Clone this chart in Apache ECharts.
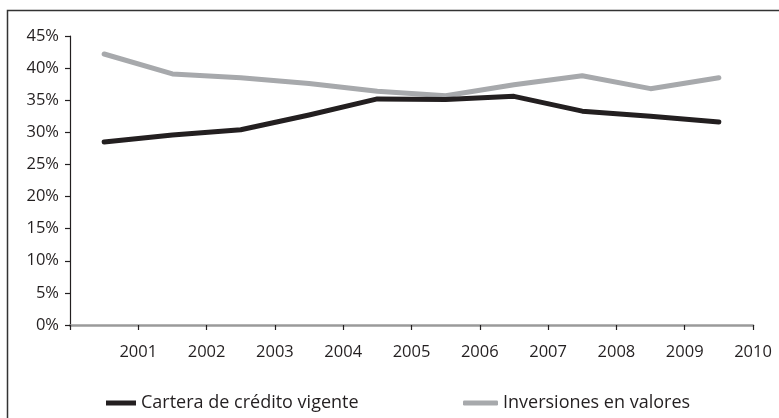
<!DOCTYPE html>
<html>
<head>
<meta charset="utf-8">
<script src="https://cdn.jsdelivr.net/npm/echarts@6/dist/echarts.min.js"></script>
<style>
html,body{margin:0;padding:0;background:#fff;}
#chart{width:779px;height:418px;}
</style>
</head>
<body>
<div id="chart"></div>
<script>
const categories = ['2001','2002','2003','2004','2005','2006','2007','2008','2009','2010'];
const tickLabels = ['2001','2002','2003','2004','2005','2006','2007','2008','2009','2010'];
const cartera = [28.5, 29.6, 30.4, 32.7, 35.2, 35.1, 35.6, 33.3, 32.5, 31.6];
const inversiones = [42.2, 39.1, 38.5, 37.6, 36.4, 35.7, 37.4, 38.8, 36.8, 38.5];
const seriesNames = ['Cartera de crédito vigente', 'Inversiones en valores'];
const yTicks = [0, 5, 10, 15, 20, 25, 30, 35, 40, 45];

const FONT = '"Open Sans", "DejaVu Sans", sans-serif';
const TXT = '#231f20';

const chart = echarts.init(document.getElementById('chart'), null, {renderer: 'canvas'});
chart.setOption({
  animation: false,
  backgroundColor: '#fff',
  textStyle: {fontFamily: FONT},
  grid: {left: 70, right: 26, top: 36, bottom: 93, containLabel: false},
  graphic: [{
    type: 'rect',
    shape: {x: 7.5, y: 10.5, width: 800, height: 500},
    style: {fill: 'none', stroke: '#333', lineWidth: 1.5},
    silent: true,
    z: -10
  }],
  legend: [{
    data: [seriesNames[0]],
    left: 101, top: 389,
    icon: 'rect', itemWidth: 30, itemHeight: 5, itemGap: 10,
    textStyle: {fontSize: 18, color: TXT, fontFamily: FONT}
  }, {
    data: [seriesNames[1]],
    left: 458, top: 389,
    icon: 'roundRect', itemWidth: 35, itemHeight: 5, itemGap: 10,
    textStyle: {fontSize: 18, color: TXT, fontFamily: FONT}
  }],
  xAxis: [{
    type: 'category',
    data: categories,
    boundaryGap: true,
    axisLine: {show: true, lineStyle: {color: '#9a9a9a', width: 2.5}},
    axisTick: {show: true, length: 5, lineStyle: {color: TXT, width: 1.2}},
    axisLabel: {show: false},
    splitLine: {show: false}
  }, {
    type: 'value',
    position: 'bottom',
    min: 0, max: 10, interval: 1,
    axisLine: {show: false},
    axisTick: {show: false},
    splitLine: {show: false},
    axisLabel: {
      show: true, margin: 19, fontSize: 16.5, color: TXT, fontFamily: FONT,
      showMinLabel: true, showMaxLabel: true,
      formatter: function (v) { return v >= 1 ? tickLabels[v - 1] : ''; }
    }
  }],
  yAxis: {
    type: 'value',
    min: 0, max: 45, interval: 5,
    axisLine: {show: true, lineStyle: {color: TXT, width: 1.2}},
    axisTick: {show: true, length: 5, lineStyle: {color: TXT, width: 1.2}},
    splitLine: {show: false},
    axisLabel: {
      margin: 11, fontSize: 16.5, color: TXT, fontFamily: FONT,
      formatter: function (v) { return yTicks.indexOf(v) >= 0 ? v + '%' : ''; }
    }
  },
  series: [{
    name: seriesNames[0],
    type: 'line',
    xAxisIndex: 0,
    data: cartera,
    symbol: 'none',
    lineStyle: {color: TXT, width: 5, join: 'round', cap: 'round'},
    itemStyle: {color: TXT},
    z: 3
  }, {
    name: seriesNames[1],
    type: 'line',
    xAxisIndex: 0,
    data: inversiones,
    symbol: 'none',
    lineStyle: {color: '#a7a9ac', width: 5, join: 'round', cap: 'round'},
    itemStyle: {color: '#a7a9ac'},
    z: 2
  }]
});
</script>
</body>
</html>
